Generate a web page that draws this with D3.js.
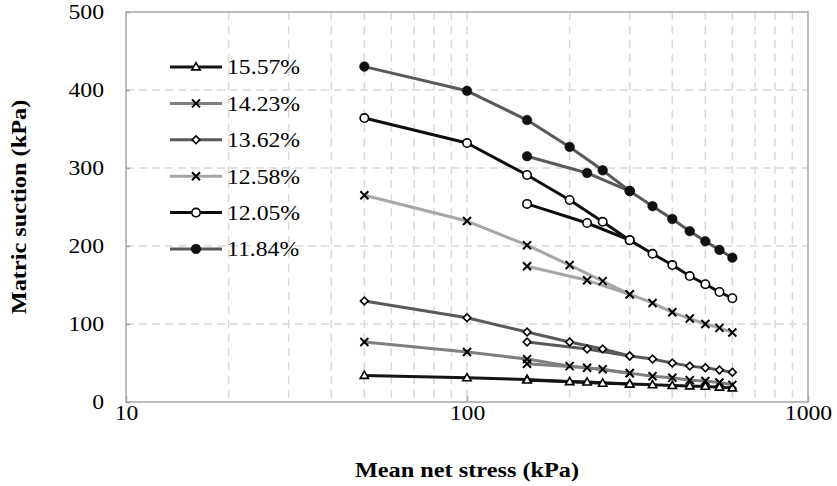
<!DOCTYPE html>
<html>
<head>
<meta charset="utf-8">
<script src="https://cdn.jsdelivr.net/npm/d3@7"></script>
<style>
  body { margin: 0; background: #fff; }
  text { font-family: "Liberation Serif", "Times New Roman", serif; fill: #000; }
</style>
</head>
<body>
<svg width="837" height="486"></svg>
<script>
// stress steps (kPa) for the two loading paths
var stressA = [50, 100, 150, 200, 250, 300, 350, 400, 450, 500, 550, 600];
var stressB = [150, 225, 300];

var seriesNames = ["15.57%", "14.23%", "13.62%", "12.58%", "12.05%", "11.84%"];

// matric suction (kPa), path A
var suctionA_1557 = [34, 31, 29, 26, 24, 23, 22, 21, 20.5, 20, 19, 18];
var suctionA_1423 = [77, 64, 55, 46, 42, 37, 33, 31, 28, 27, 25, 22];
var suctionA_1362 = [129.5, 108, 89.7, 77, 68, 59, 55, 50, 46, 44, 41, 38];
var suctionA_1258 = [265, 232, 201, 175.6, 155, 138, 127, 115, 107, 100, 95, 89];
var suctionA_1205 = [364, 332, 291, 259, 231, 207.5, 190, 175.6, 161.5, 151, 141, 133];
var suctionA_1184 = [430, 399, 361.5, 327, 297, 270.5, 251, 234.6, 219, 206, 195, 185];

// matric suction (kPa), path B
var suctionB_1557 = [28, 25.5, 23];
var suctionB_1423 = [49, 44, 37];
var suctionB_1362 = [77, 68, 59];
var suctionB_1258 = [174, 156, 138];
var suctionB_1205 = [254, 229.5, 207.5];
var suctionB_1184 = [315, 293.6, 270.5];

var xTicks = [10, 100, 1000];
var yTicks = [0, 100, 200, 300, 400, 500];

var series = [
	{name: seriesNames[0], a: suctionA_1557, b: suctionB_1557, color: "#141414", marker: "triangle"},
	{name: seriesNames[1], a: suctionA_1423, b: suctionB_1423, color: "#7f7f7f", marker: "times"},
	{name: seriesNames[2], a: suctionA_1362, b: suctionB_1362, color: "#595959", marker: "diamond"},
	{name: seriesNames[3], a: suctionA_1258, b: suctionB_1258, color: "#a6a6a6", marker: "times"},
	{name: seriesNames[4], a: suctionA_1205, b: suctionB_1205, color: "#0d0d0d", marker: "circle"},
	{name: seriesNames[5], a: suctionA_1184, b: suctionB_1184, color: "#595959", marker: "dot"}
];

// the source font is a bit wider than Liberation Serif
var stretch = 1.13;

var svg = d3.select("svg");
var padding = {t: 12, r: 29, b: 84, l: 126};
var svgWidth = +svg.attr("width");
var svgHeight = +svg.attr("height");

var x = d3.scaleLog()
	.domain([10, 1000])
	.range([padding.l, svgWidth - padding.r]);

var y = d3.scaleLinear()
	.domain([0, 500])
	.range([svgHeight - padding.b, padding.t]);

// grid
var minorX = [];
[10, 100].forEach(function(d) {
	for (var k = 2; k <= 9; k++) minorX.push(d * k);
});
minorX.push(100);

svg.append("g")
	.selectAll("line")
	.data(minorX)
	.join("line")
	.attr("x1", function(d) { return x(d); })
	.attr("x2", function(d) { return x(d); })
	.attr("y1", y(500))
	.attr("y2", y(0))
	.attr("stroke", "#d9d9d9")
	.attr("stroke-width", 1.5)
	.attr("stroke-dasharray", "8,6");

svg.append("g")
	.selectAll("line")
	.data(yTicks.slice(1, -1))
	.join("line")
	.attr("x1", x(10))
	.attr("x2", x(1000))
	.attr("y1", function(d) { return y(d); })
	.attr("y2", function(d) { return y(d); })
	.attr("stroke", "#d9d9d9")
	.attr("stroke-width", 1.5)
	.attr("stroke-dasharray", "8,5");

// frame
svg.append("rect")
	.attr("x", x(10))
	.attr("y", y(500))
	.attr("width", x(1000) - x(10))
	.attr("height", y(0) - y(500))
	.attr("fill", "none")
	.attr("stroke", "#a6a6a6")
	.attr("stroke-width", 1.5);

function widen(sel) {
	sel.each(function() {
		var t = d3.select(this);
		var tx = +t.attr("x") || 0;
		var ty = +t.attr("y") || 0;
		t.attr("x", 0).attr("y", 0)
			.attr("transform", "translate(" + tx + "," + ty + ") scale(" + stretch + ",1)");
	});
}

// axes
var xAxis = svg.append("g")
	.attr("transform", "translate(0," + y(0) + ")")
	.call(d3.axisBottom(x).tickValues(xTicks).tickFormat(d3.format("d")).tickSizeInner(-6).tickSizeOuter(0).tickPadding(3));
xAxis.select(".domain").remove();
xAxis.selectAll("line").attr("stroke", "#a6a6a6").attr("stroke-width", 1.5);
xAxis.selectAll("text").style("font-size", "21px").attr("font-family", null).call(widen);

var yAxis = svg.append("g")
	.attr("transform", "translate(" + x(10) + ",0)")
	.call(d3.axisLeft(y).tickValues(yTicks).tickSizeInner(-4).tickSizeOuter(0).tickPadding(22));
yAxis.select(".domain").remove();
yAxis.selectAll("line").attr("stroke", "#a6a6a6").attr("stroke-width", 1.5);
yAxis.selectAll("text").style("font-size", "21px").attr("font-family", null).call(widen);

// markers
function drawMarker(g, type, cx, cy) {
	if (type == "circle") {
		g.append("circle").attr("cx", cx).attr("cy", cy).attr("r", 4.2)
			.attr("fill", "#fff").attr("stroke", "#000").attr("stroke-width", 1.6);
	} else if (type == "dot") {
		g.append("circle").attr("cx", cx).attr("cy", cy).attr("r", 4.8)
			.attr("fill", "#111").attr("stroke", "#000").attr("stroke-width", 0.5);
	} else if (type == "triangle") {
		g.append("path").attr("d", d3.symbol().type(d3.symbolTriangle).size(30)())
			.attr("transform", "translate(" + cx + "," + (cy + 0.5) + ")")
			.attr("fill", "#fff").attr("stroke", "#000").attr("stroke-width", 1.6);
	} else if (type == "diamond") {
		g.append("path").attr("d", d3.symbol().type(d3.symbolSquare).size(30)())
			.attr("transform", "translate(" + cx + "," + cy + ") rotate(45)")
			.attr("fill", "#fff").attr("stroke", "#000").attr("stroke-width", 1.6);
	} else if (type == "times") {
		var h = 4;
		g.append("path")
			.attr("d", "M" + (cx - h) + "," + (cy - h) + "L" + (cx + h) + "," + (cy + h) +
				"M" + (cx - h) + "," + (cy + h) + "L" + (cx + h) + "," + (cy - h))
			.attr("stroke", "#000").attr("stroke-width", 2).attr("fill", "none");
	}
}

var line = d3.line()
	.x(function(d) { return x(d[0]); })
	.y(function(d) { return y(d[1]); });

var plotG = svg.append("g");

series.forEach(function(s) {
	var ptsA = stressA.map(function(v, i) { return [v, s.a[i]]; });
	var ptsB = stressB.map(function(v, i) { return [v, s.b[i]]; });
	var g = plotG.append("g");
	[ptsA, ptsB].forEach(function(pts) {
		g.append("path")
			.attr("d", line(pts))
			.attr("fill", "none")
			.attr("stroke", s.color)
			.attr("stroke-width", 3)
			.attr("stroke-linejoin", "round");
	});
	ptsA.concat(ptsB).forEach(function(p) {
		drawMarker(g, s.marker, x(p[0]), y(p[1]));
	});
});

// legend
var legendY = d3.scalePoint()
	.domain(seriesNames)
	.range([67, 249]);

var legend = svg.append("g");
series.forEach(function(s) {
	var ly = legendY(s.name);
	legend.append("line")
		.attr("x1", 170).attr("x2", 222)
		.attr("y1", ly).attr("y2", ly)
		.attr("stroke", s.color)
		.attr("stroke-width", 3);
	drawMarker(legend, s.marker, 196, ly);
	legend.append("text")
		.attr("transform", "translate(227," + ly + ") scale(" + stretch + ",1)")
		.attr("dy", "0.35em")
		.style("font-size", "21px")
		.text(s.name);
});

// titles
svg.append("text")
	.attr("transform", "translate(" + ((x(10) + x(1000)) / 2) + ",477) scale(" + stretch + ",1)")
	.attr("text-anchor", "middle")
	.style("font-size", "21.5px")
	.style("font-weight", "bold")
	.text("Mean net stress (kPa)");

svg.append("text")
	.attr("transform", "translate(26," + ((y(0) + y(500)) / 2) + ") rotate(-90) scale(" + stretch + ",1)")
	.attr("text-anchor", "middle")
	.style("font-size", "21.5px")
	.style("font-weight", "bold")
	.text("Matric suction (kPa)");
</script>
</body>
</html>
